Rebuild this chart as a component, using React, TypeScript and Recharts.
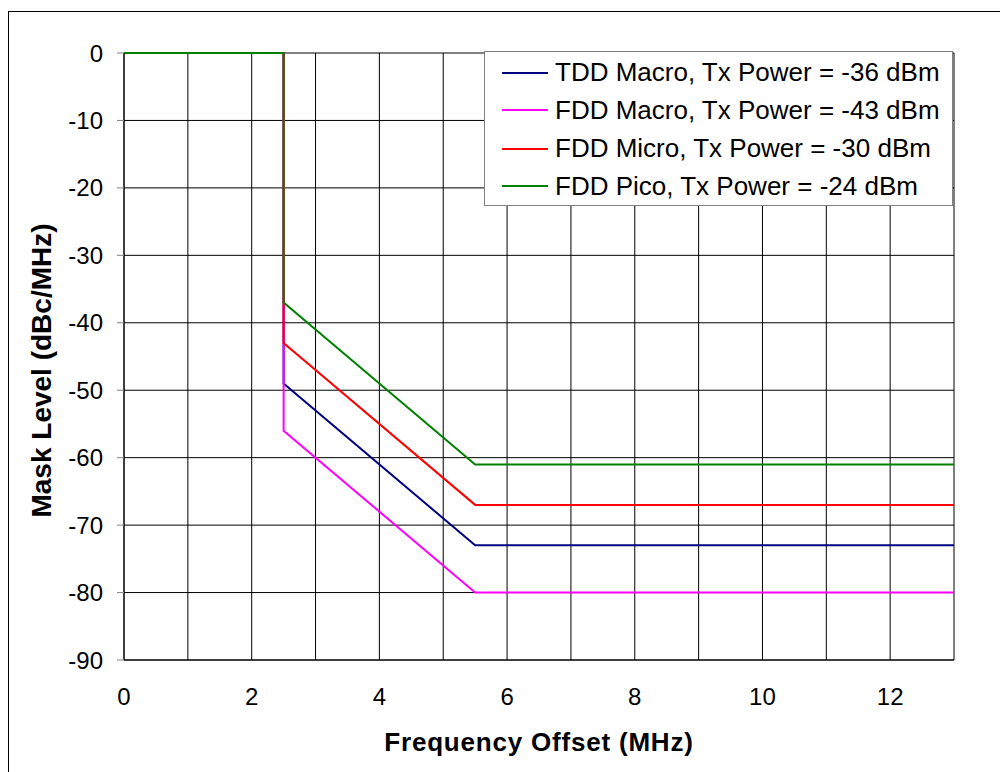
import { LineChart, Line, XAxis, YAxis, CartesianGrid } from 'recharts'

const FREQ = [0, 2.5, 2.5, 5.5, 13]
const TDD_MACRO = [0, 0, -49, -73, -73]
const FDD_MACRO = [0, 0, -56, -80, -80]
const FDD_MICRO = [0, 0, -43, -67, -67]
const FDD_PICO = [0, 0, -37, -61, -61]

const X_TICKS = [0, 1, 2, 3, 4, 5, 6, 7, 8, 9, 10, 11, 12, 13]
const Y_TICKS = [0, -10, -20, -30, -40, -50, -60, -70, -80, -90]

const SERIES = [
  { name: 'TDD Macro, Tx Power = -36 dBm', values: TDD_MACRO, color: '#000080' },
  { name: 'FDD Macro, Tx Power = -43 dBm', values: FDD_MACRO, color: '#FF00FF' },
  { name: 'FDD Micro, Tx Power = -30 dBm', values: FDD_MICRO, color: '#FF0000' },
  { name: 'FDD Pico, Tx Power = -24 dBm', values: FDD_PICO, color: '#008000' },
]

const FONT = '"Liberation Sans", Arial, sans-serif'

function toPoints(values: number[]) {
  return FREQ.map((x, i) => ({ x, y: values[i] }))
}

// legend drawn as an overlay so it doesn't push the plot area around
function MaskLegend() {
  return (
    <div
      style={{
        position: 'absolute',
        left: 484,
        top: 51,
        width: 469,
        height: 155,
        border: '1px solid #808080',
        background: '#fff',
        fontFamily: FONT,
        fontSize: 26,
        color: '#000',
        paddingTop: 2,
        boxSizing: 'border-box',
      }}
    >
      {SERIES.map((s, i) => (
        <div key={s.name} style={{ display: 'flex', alignItems: 'center', height: 37.5, marginTop: i === 2 ? 1 : 0 }}>
          <div style={{ width: 46, height: 2, background: s.color, marginLeft: 17, marginRight: 7 }} />
          <span style={{ whiteSpace: 'nowrap' }}>{s.name}</span>
        </div>
      ))}
    </div>
  )
}

export default function App() {
  return (
    <div style={{ position: 'relative', width: 1000, height: 772, overflow: 'hidden', background: '#fff' }}>
      <style>{'body{margin:0}'}</style>
      <div
        style={{
          position: 'absolute',
          left: 8,
          top: 11,
          width: 1100,
          height: 900,
          borderLeft: '1px solid #000',
          borderTop: '1px solid #000',
        }}
      />
      <div style={{ position: 'absolute', left: 0, top: 0 }}>
        <LineChart width={1000} height={772} margin={{ top: 53, right: 46, left: 64, bottom: 82 }}>
          <CartesianGrid stroke="#000" strokeWidth={1} />
          <XAxis
            dataKey="x"
            type="number"
            domain={[0, 13]}
            ticks={X_TICKS}
            interval={0}
            tickFormatter={(v: number) => (v % 2 === 0 ? String(v) : '')}
            tickLine={false}
            axisLine={{ stroke: '#000' }}
            tick={{ fontSize: 24, fontFamily: FONT, fill: '#000' }}
            tickMargin={22}
            height={30}
            allowDuplicatedCategory={false}
            label={{
              value: 'Frequency Offset (MHz)',
              position: 'insideBottom',
              offset: -61,
              style: { fontSize: 26, fontWeight: 'bold', fontFamily: FONT, fill: '#000', letterSpacing: 0.8 },
            }}
          />
          <YAxis
            type="number"
            domain={[-90, 0]}
            ticks={Y_TICKS}
            interval={0}
            width={60}
            tickSize={7}
            tickLine={{ stroke: '#808080' }}
            axisLine={{ stroke: '#000' }}
            tick={{ fontSize: 24, fontFamily: FONT, fill: '#000' }}
            tickMargin={14}
            label={{
              value: 'Mask Level (dBc/MHz)',
              angle: -90,
              position: 'center',
              dx: -53,
              dy: 14,
              style: { fontSize: 28, fontWeight: 'bold', fontFamily: FONT, fill: '#000', textAnchor: 'middle' },
            }}
          />
          {SERIES.map((s) => (
            <Line
              key={s.name}
              name={s.name}
              data={toPoints(s.values)}
              dataKey="y"
              stroke={s.color}
              strokeWidth={2}
              dot={false}
              isAnimationActive={false}
              type="linear"
            />
          ))}
        </LineChart>
      </div>
      <MaskLegend />
    </div>
  )
}
